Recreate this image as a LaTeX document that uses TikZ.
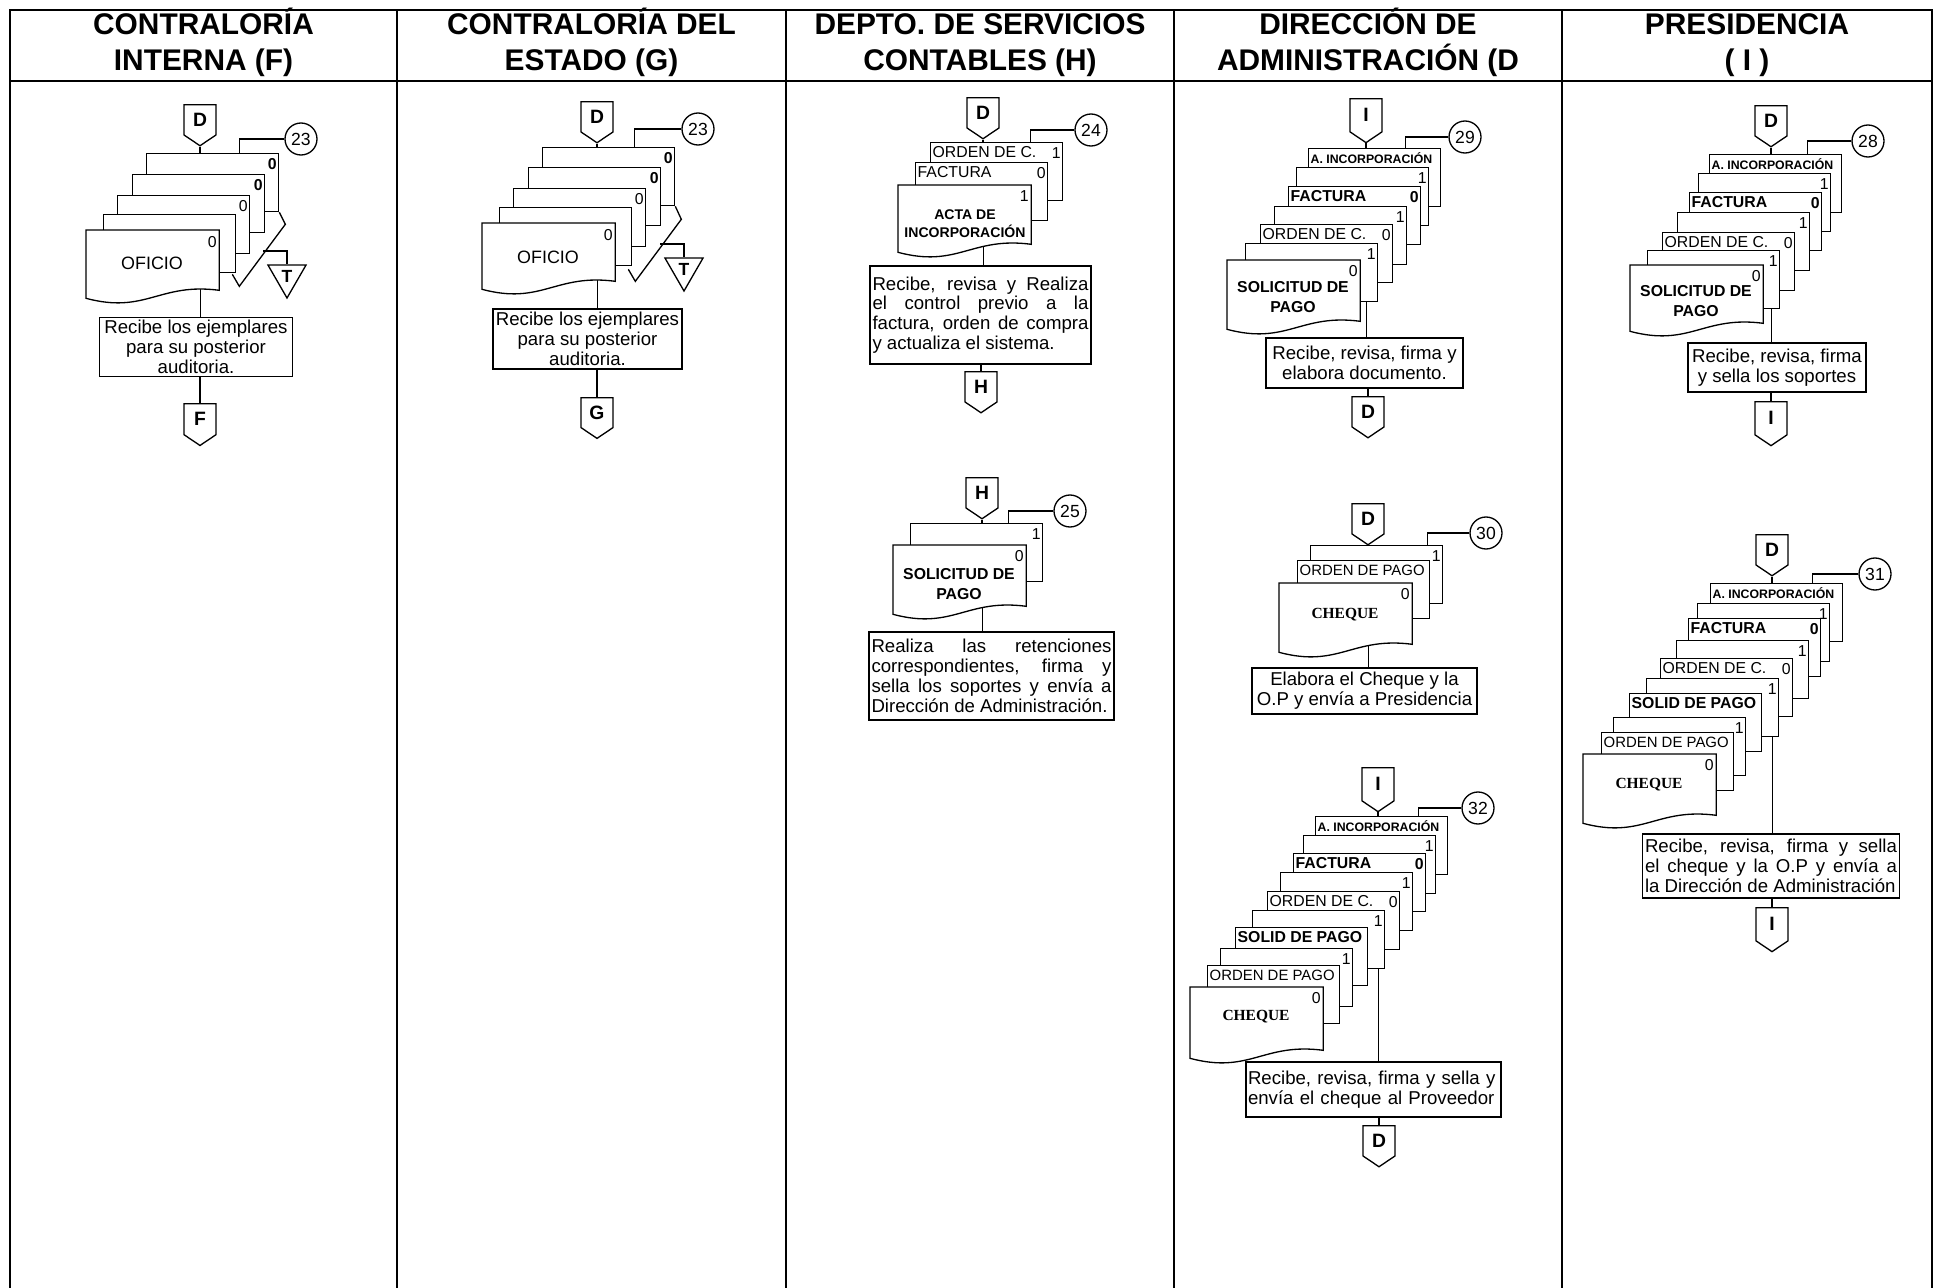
\documentclass[tikz,border=0pt]{standalone}
\usepackage{fontspec}
\setmainfont{Liberation Sans}
\newfontfamily\tms{Liberation Serif}
\usetikzlibrary{shapes.symbols, shapes.geometric, calc}
\pgfdeclarelayer{bg}
\pgfsetlayers{bg,main}

\def\px{0.02cm}
\newcommand\jl[2]{\makebox[#1][s]{#2}}
\newcommand\hst{\rule[-3pt]{0pt}{20pt}}
\newcommand\fsA{\fontsize{7}{8}\selectfont\bfseries}
\newcommand\fsB{\fontsize{9}{10}\selectfont\bfseries}
\newcommand\fsR{\fontsize{9}{10}\selectfont}
\newcommand\fsP{\fontsize{8.5}{9}\selectfont}
\newcommand\fsCh{\tms\fontsize{8.8}{10}\selectfont\bfseries}

% the copies behind: name/left/top/strip text/number
\newcommand\docstack[1]{%
  \foreach \nm/\l/\t/\lab/\n in {#1}{
    \node[bdoc] (\nm) at (\l,\t) {};
    \node[striplab] (\nm-l) at ($(\nm.north west)+(2,15)$) {\lab};
    \node[docnum] (\nm-n) at ($(\nm.north east)+(-2,16)$) {\n};
  }%
}
% the front sheet with the wavy bottom: name, left, top, height
\newcommand\frontdoc[4]{%
  \node[fdoc, minimum height=#4*\px] (#1) at (#2,#3) {};
  \draw[fill=white] (#1.north west) -- (#1.north east) -- ($(#1.south east)+(0,-8)$)
      .. controls ($(#1.south west)!0.55!(#1.south east)+(0,-16)$)
      and ($(#1.south west)!0.45!(#1.south east)+(0,16)$) .. (#1.south west) -- cycle;
}

\begin{document}
\begin{tikzpicture}[x=\px, y=-\px, line width=0.75pt,
    colhead/.style={font=\fontsize{17}{20.4}\selectfont\bfseries, align=center, inner sep=0pt},
    offpage/.style={signal, signal to=south, signal pointer angle=112, draw, fill=white,
        inner sep=0pt, minimum width=32*\px, minimum height=35*\px, anchor=north,
        font=\fontsize{11}{11}\selectfont\bfseries},
    numc/.style={circle, draw, fill=white, inner sep=0pt, minimum size=32*\px,
        font=\fontsize{10}{10}\selectfont},
    bdoc/.style={draw, fill=white, inner sep=0pt, minimum width=132*\px,
        minimum height=58*\px, anchor=north west},
    fdoc/.style={inner sep=0pt, minimum width=132*\px, anchor=north west},
    striplab/.style={anchor=base west, inner sep=0pt},
    docnum/.style={anchor=base east, inner sep=0pt, font=\fsR},
    doctxt/.style={align=center, inner sep=0pt},
    procbox/.style={draw, fill=white, inner sep=0pt, align=center,
        font=\fontsize{10.6}{11.3}\selectfont},
    tribox/.style={regular polygon, regular polygon sides=3, shape border rotate=180,
        draw, inner sep=0pt, minimum size=44*\px, font=\fontsize{10}{10}\selectfont\bfseries},
    lanes/.style={line width=1pt},
]
\useasboundingbox (0,0) rectangle (1935,1288);

% ---------------- lanes and headings
\draw[lanes] (10,1288) -- (10,10) -- (1932,10) -- (1932,1288);
\draw[lanes] (10,81) -- (1932,81);
\foreach \x in {397,786,1174,1562}{ \draw[lanes] (\x,10) -- (\x,1288); }
\node[colhead, anchor=north] (colF) at (203.5,4) {\hst CONTRALORÍA\\\hst INTERNA (F)};
\node[colhead, anchor=north] (colG) at (591.5,4) {\hst CONTRALORÍA DEL\\\hst ESTADO (G)};
\node[colhead, anchor=north] (colH) at (980,4) {\hst DEPTO. DE SERVICIOS\\\hst CONTABLES (H)};
\node[colhead, anchor=north] (colD) at (1368,4) {\hst DIRECCIÓN DE\\\hst ADMINISTRACIÓN (D};
\node[colhead, anchor=north] (colI) at (1747,4) {\hst PRESIDENCIA\\\hst ( I )};

% ---------------- contraloria interna
\node[offpage] (fD) at (200,104) {D};
\node[numc] (f23) at (301,139) {23};
\docstack{f1/146/153/{}/{\bfseries 0}, f2/132/174/{}/{\bfseries 0}, f3/117/195/{}/0, f4/103/214/{}/{}}
\frontdoc{f5}{86}{230}{67}
\node[docnum] (f5-n) at ($(f5.north east)+(-2,17)$) {0};
\node[doctxt, font=\fontsize{10.2}{11}\selectfont] (f5-t) at (152,263) {OFICIO};
\draw (f1.south east) -- ++(6,12) -- ++(-46,62) -- ++(-7,-12);
\node[tribox] (fT) at (287,276) {T};
\coordinate (fTs) at (263,251);
\node[procbox, minimum width=193*\px, minimum height=59*\px] (fP) at (196,347)
    {Recibe los ejemplares\\para su posterior\\auditoria.};
\node[offpage] (fF) at (200,403) {F};
\draw (fD.south) -- (fD.south |- f1.north);
\draw (f23.west) -| ([xshift=27*\px]f1.north);
\draw (fTs) -| (fT.north);
\draw (fF.north) -- (fF.north |- fP.south);

% ---------------- contraloria del estado
\node[offpage] (gD) at (597,101) {D};
\node[numc] (g23) at (698,129) {23};
\docstack{g1/542/147/{}/{\bfseries 0}, g2/528/167/{}/{\bfseries 0}, g3/513/188/{}/0, g4/499/207/{}/{}}
\frontdoc{g5}{482}{223}{65}
\node[docnum] (g5-n) at ($(g5.north east)+(-2,17)$) {0};
\node[doctxt, font=\fontsize{10.2}{11}\selectfont] (g5-t) at (548,257) {OFICIO};
\draw (g1.south east) -- ++(6,13) -- ++(-46,62) -- ++(-7,-12);
\node[tribox] (gT) at (684,269) {T};
\coordinate (gTs) at (660,244);
\node[procbox, minimum width=189*\px, minimum height=60*\px] (gP) at (587.5,339)
    {Recibe los ejemplares\\para su posterior\\auditoria.};
\node[offpage] (gG) at (597,397) {G};
\draw (gD.south) -- (gD.south |- g1.north);
\draw (g23.west) -| ([xshift=26*\px]g1.north);
\draw (gTs) -| (gT.north);
\draw (gG.north) -- (gG.north |- gP.south);

% ---------------- servicios contables
\node[offpage] (hD) at (983,97) {D};
\node[numc] (h24) at (1091,130) {24};
\docstack{h1/930/142/{\fsR ORDEN DE C.}/1, h2/915/162/{\fsR FACTURA}/0}
\frontdoc{h3}{898}{185}{66}
\node[docnum] (h3-n) at ($(h3.north east)+(-2,16)$) {1};
\node[doctxt, font=\fontsize{8}{10.2}\selectfont\bfseries] (h3-t) at (965,224) {ACTA DE\\INCORPORACIÓN};
\node[procbox, align=left, minimum width=221*\px, minimum height=98*\px] (hP) at (980.5,315)
    {\jl{4.32cm}{Recibe, revisa y Realiza}\\\jl{4.32cm}{el control previo a la}\\
     \jl{4.32cm}{factura, orden de compra}\\y actualiza el sistema.};
\node[offpage] (hH) at (981,371) {H};
\draw (hD.south) -- (hD.south |- h1.north);
\draw (h24.west) -| ([xshift=34*\px]h1.north);
\draw (hH.north) -- (hH.north |- hP.south);

\node[offpage] (hH2) at (982,477) {H};
\node[numc] (h25) at (1070,511) {25};
\docstack{h4/910/523/{}/1}
\frontdoc{h5}{893}{545}{68}
\node[docnum] (h5-n) at ($(h5.north east)+(-2,16)$) {0};
\node[doctxt, font=\fontsize{9}{11.3}\selectfont\bfseries] (h5-t) at (959,584) {SOLICITUD DE\\PAGO};
\node[procbox, align=left, minimum width=245*\px, minimum height=88*\px] (hQ) at (991.5,676)
    {\jl{4.8cm}{Realiza las retenciones}\\\jl{4.8cm}{correspondientes, firma y}\\
     \jl{4.8cm}{sella los soportes y envía a}\\Dirección de Administración.};
\draw (hH2.south) -- (hH2.south |- h4.north);
\draw (h25.west) -| ([xshift=32*\px]h4.north);

% ---------------- direccion de administracion
\node[offpage] (dI) at (1366,98) {I};
\node[numc] (d29) at (1465,137) {29};
\docstack{a1/1308/148/{\fsA A. INCORPORACIÓN}/{}, a2/1296/167/{}/1, a3/1288/186/{\fsB FACTURA}/{\bfseries 0},
    a4/1274/206/{}/1, a5/1260/224/{\fsR ORDEN DE C.}/0, a6/1245/243/{}/1}
\frontdoc{a7}{1227}{260}{68}
\node[docnum] (a7-n) at ($(a7.north east)+(-2,16)$) {0};
\node[doctxt, font=\fontsize{9}{11.3}\selectfont\bfseries] (a7-t) at (1293,297) {SOLICITUD DE\\PAGO};
\node[procbox, minimum width=197*\px, minimum height=50*\px] (dP) at (1364.5,363)
    {Recibe, revisa, firma y\\elabora documento.};
\node[offpage] (dD) at (1368,396) {D};
\draw (dI.south) -- (dI.south |- a1.north);
\draw (d29.west) -| ([xshift=31*\px]a1.north);
\draw (dD.north) -- (dD.north |- dP.south);

\node[offpage] (dD2) at (1368,503) {D};
\node[numc] (d30) at (1486,533) {30};
\docstack{b1/1310/545/{}/1, b2/1297/560/{\fsP ORDEN DE PAGO}/{}}
\frontdoc{b3}{1279}{583}{68}
\node[docnum] (b3-n) at ($(b3.north east)+(-2,16)$) {0};
\node[doctxt, font=\fsCh] (b3-t) at (1345,615) {CHEQUE};
\node[procbox, minimum width=225*\px, minimum height=46*\px] (dQ) at (1364.5,691)
    {Elabora el Cheque y la\\O.P y envía a Presidencia};
\draw (dD2.south) -- (dD2.south |- b1.north);
\draw (d30.west) -| ([xshift=51*\px]b1.north);

\node[offpage] (dI3) at (1378,767) {I};
\node[numc] (d32) at (1478,808) {32};
\docstack{c1/1315/816/{\fsA A. INCORPORACIÓN}/{}, c2/1303/835/{}/1, c3/1293/853/{\fsB FACTURA}/{\bfseries 0},
    c4/1280/872/{}/1, c5/1267/891/{\fsR ORDEN DE C.}/0, c6/1252/910/{}/1,
    c7/1235/927/{\fsB SOLID DE PAGO}/{}, c8/1220/948/{}/1, c9/1207/965/{\fsP ORDEN DE PAGO}/{}}
\frontdoc{c10}{1190}{987}{70}
\node[docnum] (c10-n) at ($(c10.north east)+(-2,16)$) {0};
\node[doctxt, font=\fsCh] (c10-t) at (1256,1017) {CHEQUE};
\node[procbox, align=left, text width=5.02cm, minimum width=255*\px, minimum height=55*\px] (dR) at (1373.5,1089.5)
    {Recibe, revisa, firma y sella y\\envía el cheque al Proveedor};
\node[offpage] (dD3) at (1379,1125) {D};
\draw (dI3.south) -- (dI3.south |- c1.north);
\draw (d32.west) -| ([xshift=37*\px]c1.north);
\draw (dD3.north) -- (dD3.north |- dR.south);

% ---------------- presidencia
\node[offpage] (iD) at (1771,105) {D};
\node[numc] (i28) at (1868,141) {28};
\docstack{e1/1709/154/{\fsA A. INCORPORACIÓN}/{}, e2/1698/173/{}/1, e3/1689/192/{\fsB FACTURA}/{\bfseries 0},
    e4/1677/212/{}/1, e5/1662/232/{\fsR ORDEN DE C.}/0, e6/1647/250/{}/1}
\frontdoc{e7}{1630}{265}{65}
\node[docnum] (e7-n) at ($(e7.north east)+(-2,16)$) {0};
\node[doctxt, font=\fontsize{9}{11.3}\selectfont\bfseries] (e7-t) at (1696,301) {SOLICITUD DE\\PAGO};
\node[procbox, minimum width=178*\px, minimum height=49*\px] (iP) at (1777,367.5)
    {Recibe, revisa, firma\\y sella los soportes};
\node[offpage] (iI) at (1771,401) {I};
\draw (iD.south) -- (iD.south |- e1.north);
\draw (i28.west) -| ([xshift=32*\px]e1.north);
\draw (iI.north) -- (iI.north |- iP.south);

\node[offpage] (iD2) at (1772,534) {D};
\node[numc] (i31) at (1875,574) {31};
\docstack{k1/1710/583/{\fsA A. INCORPORACIÓN}/{}, k2/1697/603/{}/1, k3/1688/618/{\fsB FACTURA}/{\bfseries 0},
    k4/1676/640/{}/1, k5/1660/658/{\fsR ORDEN DE C.}/0, k6/1646/678/{}/1,
    k7/1629/693/{\fsB SOLID DE PAGO}/{}, k8/1613/717/{}/1, k9/1601/732/{\fsP ORDEN DE PAGO}/{}}
\frontdoc{k10}{1583}{754}{68}
\node[docnum] (k10-n) at ($(k10.north east)+(-2,16)$) {0};
\node[doctxt, font=\fsCh] (k10-t) at (1649,785) {CHEQUE};
\node[procbox, align=left, minimum width=257*\px, minimum height=64*\px] (iQ) at (1771,866)
    {\jl{5.04cm}{Recibe, revisa, firma y sella}\\\jl{5.04cm}{el cheque y la O.P y envía a}\\
     la Dirección de Administración};
\node[offpage] (iI2) at (1772,907) {I};
\draw (iD2.south) -- (iD2.south |- k1.north);
\draw (i31.west) -| ([xshift=36*\px]k1.north);
\draw (iI2.north) -- (iI2.north |- iQ.south);

% the links that run behind the sheets
\begin{pgfonlayer}{bg}
  \draw (fD.south |- fP.north) -- (fD.south |- f5.center);
  \draw (gD.south |- gP.north) -- (gD.south |- g5.center);
  \draw (hD.south |- hP.north) -- (hD.south |- h3.center);
  \draw (hH2.south |- hQ.north) -- (hH2.south |- h5.center);
  \draw (dI.south |- dP.north) -- (dI.south |- a6.center);
  \draw (dD2.south |- dQ.north) -- (dD2.south |- b3.center);
  \draw (dI3.south |- dR.north) -- (dI3.south |- c6.center);
  \draw (iD.south |- iP.north) -- (iD.south |- e6.center);
  \draw (iD2.south |- iQ.north) -- (iD2.south |- k6.center);
\end{pgfonlayer}
\end{tikzpicture}
\end{document}
